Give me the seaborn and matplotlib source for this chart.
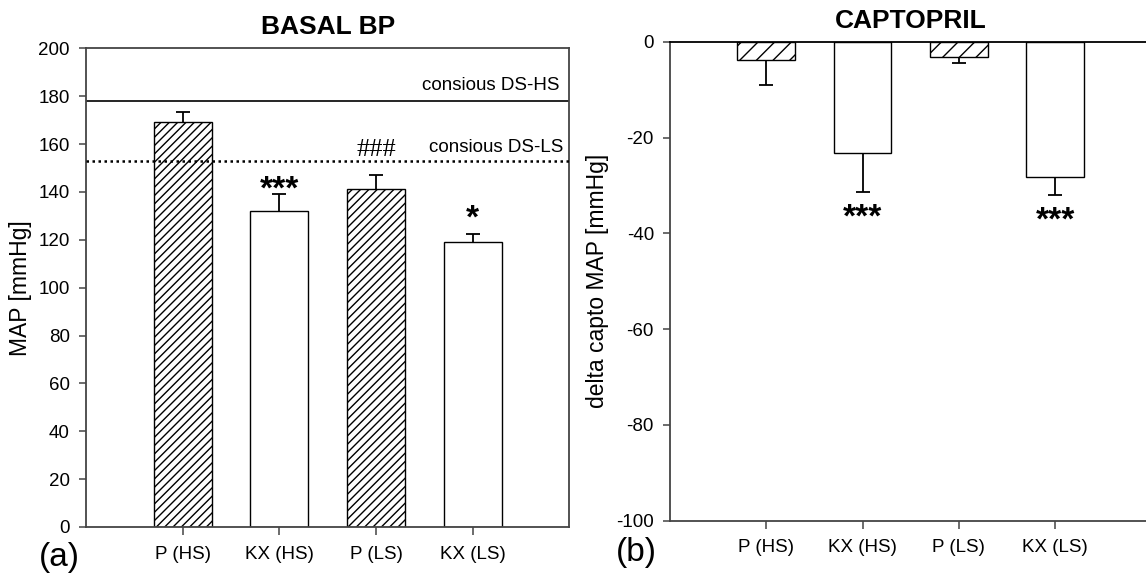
import matplotlib
matplotlib.use("Agg")
import matplotlib.pyplot as plt
import seaborn as sns
import numpy as np

groups = ["P (HS)", "KX (HS)", "P (LS)", "KX (LS)"]

# panel (a): basal MAP
basal_map = [169.2, 132.0, 141.0, 119.0]
basal_err = [4.2, 7.0, 6.0, 3.6]
basal_marks = ["", "***", "###", "*"]
ref_hs = 178.0
ref_ls = 152.8

# panel (b): change after captopril
capto_delta = [-3.8, -23.1, -3.1, -28.2]
capto_err = [5.2, 8.2, 1.2, 3.7]
capto_marks = ["", "***", "", "***"]

plt.rcParams["font.family"] = ["Liberation Sans", "DejaVu Sans"]
plt.rcParams["axes.unicode_minus"] = False
spine_col = "#444444"

fig = plt.figure(figsize=(11.46, 5.74), dpi=100)
ax1 = fig.add_axes([0.0750, 0.0819, 0.4219, 0.8340])
ax2 = fig.add_axes([0.5846, 0.0929, 0.4202, 0.8340])


def draw_bars(ax, values, errs, up, hatch_list):
    sns.barplot(x=groups, y=values, ax=ax, color="white", saturation=1,
                edgecolor="black", linewidth=1.0, width=0.6, errorbar=None)
    for patch, h in zip(ax.patches, hatch_list):
        patch.set_hatch(h)
    zeros = np.zeros(len(values))
    yerr = [zeros, errs] if up else [errs, zeros]
    _, caps, _ = ax.errorbar(np.arange(len(values)), values, yerr=yerr, fmt="none",
                             ecolor="black", elinewidth=1.3, capsize=5.3,
                             capthick=1.3, zorder=3)
    # only keep the cap at the far end of the error bar
    caps[0 if up else 1].remove()
    ax.set_xlim(-1, 4)
    for sp in ax.spines.values():
        sp.set_color(spine_col)
        sp.set_linewidth(1.3)
    ax.tick_params(axis="y", direction="out", length=5, width=1.1,
                   color=spine_col, labelsize=13.5, pad=6.5)
    ax.tick_params(axis="x", direction="out", length=5.5, width=1.1,
                   color=spine_col, labelsize=13.5, pad=8)


# ---- panel (a)
draw_bars(ax1, basal_map, basal_err, True, ["////", "", "////", ""])
ax1.set_ylim(0, 200)
ax1.set_yticks(range(0, 201, 20))
ax1.axhline(ref_hs, color="black", lw=1.2, zorder=1)
ax1.axhline(ref_ls, color="black", lw=1.8, ls=(0, (1, 1.4)), zorder=4)
ax1.text(3.9, 182.5, "consious DS-HS", ha="right", va="baseline", fontsize=13.5)
ax1.text(3.935, 156.7, "consious DS-LS", ha="right", va="baseline", fontsize=13.5)
for i, m in enumerate(basal_marks):
    top = basal_map[i] + basal_err[i]
    if m == "###":
        ax1.text(i, 155.2, m, ha="center", va="baseline", fontsize=19,
                 family=["Liberation Serif", "DejaVu Serif"])
    elif m == "***":
        ax1.text(i, top - 1.8, m, ha="center", va="baseline", fontsize=24,
                 fontweight="bold")
    elif m:
        ax1.text(i, top + 2.4, m, ha="center", va="baseline", fontsize=24,
                 fontweight="bold")
ax1.set_title("BASAL BP", fontsize=19, fontweight="bold", pad=10)
ax1.set_ylabel("MAP [mmHg]", fontsize=16.5)
ax1.yaxis.set_label_coords(-0.112, 0.5)
ax1.set_xlabel("")

# ---- panel (b)
draw_bars(ax2, capto_delta, capto_err, False, ["//", "", "//", ""])
ax2.set_ylim(-100, 0)
ax2.set_yticks(range(-100, 1, 20))
ax2.spines["top"].set_color("black")
for i, m in enumerate(capto_marks):
    if m:
        ax2.text(i, capto_delta[i] - capto_err[i] - 7.3, m, ha="center",
                 va="baseline", fontsize=24, fontweight="bold")
ax2.set_title("CAPTOPRIL", fontsize=19, fontweight="bold", pad=10)
ax2.set_ylabel("delta capto MAP [mmHg]", fontsize=16.5)
ax2.yaxis.set_label_coords(-0.126, 0.5)
ax2.set_xlabel("")

fig.text(0.034, 0.0287, "(a)", fontsize=24, ha="left", va="center")
fig.text(0.5375, 0.0383, "(b)", fontsize=24, ha="left", va="center")

fig.savefig("out.png", dpi=100)
